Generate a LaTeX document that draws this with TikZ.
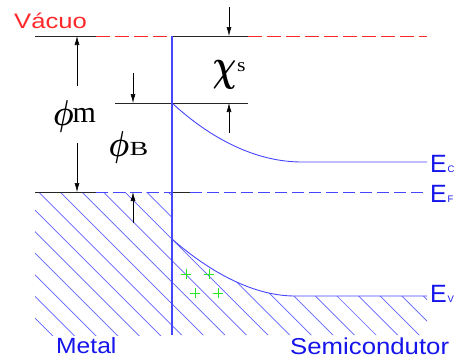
\documentclass[tikz,border=0pt]{standalone}
\usepackage{bm}
\usepackage{fontspec}
\newfontfamily\arialf{Liberation Sans}
\newfontfamily\timesf{Liberation Serif}
\usetikzlibrary{arrows.meta}
\definecolor{lineblue}{RGB}{70,70,255}
\definecolor{hatchblue}{RGB}{95,95,255}
\definecolor{txtblue}{RGB}{20,20,235}
\definecolor{plusgreen}{RGB}{40,230,40}
\definecolor{vacred}{RGB}{255,40,40}
\begin{document}
\begin{tikzpicture}[x=1pt,y=-1pt,
  blk/.style={black!85, line width=0.8pt},
  reddash/.style={vacred, line width=0.8pt, dash pattern=on 14pt off 5pt},
  bluedash/.style={lineblue, line width=0.8pt, dash pattern=on 12pt off 5pt},
  band/.style={lineblue, line width=0.9pt},
  hatchline/.style={hatchblue, line width=0.7pt},
  dimarrow/.style={black, line width=0.6pt, -{Latex[length=9pt,width=5pt]}},
  lbl/.style={inner sep=0pt, anchor=base west},
  sanslbl/.style={lbl, text=txtblue, font=\arialf\fontsize{22}{24}\selectfont},
  elbl/.style={lbl, text=txtblue, font=\arialf\fontsize{25}{27}\selectfont},
  esub/.style={lbl, text=txtblue, font=\arialf\fontsize{9.5}{10}\selectfont},
  plusmark/.style={plusgreen, line width=0.8pt}]
\useasboundingbox (0,0) rectangle (457,360);

% key coordinates
\coordinate (vacL) at (35,36);
\coordinate (vacM) at (96,36);
\coordinate (junTop) at (172,36);
\coordinate (vacK) at (248,36);
\coordinate (vacR) at (427,36);
\coordinate (fL) at (35,192);
\coordinate (fM) at (96,192);
\coordinate (junF) at (172,192);
\coordinate (fK) at (190,192);
\coordinate (fR) at (427,192);
\coordinate (junBot) at (172,335);
\coordinate (bL) at (115,103);
\coordinate (ec0) at (172,103);
\coordinate (bR) at (248,103);
\coordinate (ec1) at (302,162);
\coordinate (ecR) at (427,162);
\coordinate (ev0) at (172,239);
\coordinate (ev1) at (295,296);
\coordinate (evR) at (427,296);

% hatching: metal
\begin{scope}
  \clip (fL) rectangle (junBot);
  \foreach \k in {-3,...,12}
    \draw[hatchline] (172,239+21.6*\k) -- ++(-320,-320);
\end{scope}
% hatching: semiconductor
\begin{scope}
  \clip (ev0) .. controls (205,268) and (250,296) .. (ev1) -- (evR) -- (427,335) -- (junBot) -- cycle;
  \foreach \k in {-11,...,5}
    \draw[hatchline] (172,239+21.6*\k) -- ++(320,320);
\end{scope}

% vacuum level
\draw[blk] (vacL) -- (vacM);
\draw[reddash] (vacM) -- (junTop);
\draw[blk] (junTop) -- (vacK);
\draw[reddash] (vacK) -- (vacR);

% Fermi level
\draw[blk] (fL) -- (fM);
\draw[bluedash] (fM) -- (junF);
\draw[blk] (junF) -- (fK);
\draw[bluedash] (fK) -- (fR);

% barrier level
\draw[blk] (bL) -- (bR);

% junction
\draw[lineblue, line width=1.2pt] (junTop) -- (junBot);

% bands
\draw[band] (ec0) .. controls (210,138) and (255,162) .. (ec1) -- (ecR);
\draw[band] (ev0) .. controls (205,268) and (250,296) .. (ev1) -- (evR);

% dimension arrows
\coordinate (mA) at (77,36);
\coordinate (mT) at (77,86);
\coordinate (mB) at (77,143);
\coordinate (mF) at (77,192);
\draw[dimarrow] (mT) -- (mA);
\draw[dimarrow] (mB) -- (mF);
\coordinate (bT) at (133,73);
\coordinate (bA) at (133,103);
\coordinate (bB) at (133,223);
\coordinate (bF) at (133,192);
\draw[dimarrow] (bT) -- (bA);
\draw[dimarrow] (bB) -- (bF);
\coordinate (cT) at (229,7);
\coordinate (cA) at (229,36);
\coordinate (cB) at (229,133);
\coordinate (cE) at (229,103);
\draw[dimarrow] (cT) -- (cA);
\draw[dimarrow] (cB) -- (cE);

% plus charges
\foreach \n/\px/\py in {p1/186/274, p2/209/274, p3/195/293, p4/218/293} {
  \coordinate (\n) at (\px,\py);
  \draw[plusmark] (\n) ++(-5,0) -- ++(10,0) (\n) ++(0,-5) -- ++(0,10);
}

% labels
\node[lbl, text=vacred, font=\arialf\fontsize{21}{23}\selectfont] (vac) at (14,28) {\scalebox{1.22}[1]{Vácuo}};
\node[inner sep=0pt] (phim) at (63.5,116.5) {\scalebox{2.9}[3.6]{$\bm{\phi}$}};
\node[lbl, font=\timesf\fontsize{30}{32}\selectfont] (mlbl) at (72.5,122) {m};
\node[inner sep=0pt] (phib) at (119,147.5) {\scalebox{2.9}[3.6]{$\bm{\phi}$}};
\node[lbl, font=\timesf\fontsize{20}{22}\selectfont] (blbl) at (129.5,155) {\scalebox{1.4}[1]{B}};
\node[inner sep=0pt] (chi) at (224.5,74.5) {\scalebox{3.3}[4.5]{$\bm{\chi}$}};
\node[lbl, font=\timesf\fontsize{19}{21}\selectfont] (slbl) at (237,71) {\scalebox{1.15}[1]{s}};
\node[elbl] (ec) at (430,172) {E};
\node[esub] (ecs) at (447.5,172) {C};
\node[elbl] (ef) at (430,202) {E};
\node[esub] (efs) at (447.5,202) {F};
\node[elbl] (ev) at (430,302) {E};
\node[esub] (evs) at (447.5,302) {V};
\node[sanslbl] (metal) at (56,353) {\scalebox{1.12}[1]{Metal}};
\node[sanslbl, font=\arialf\fontsize{23}{25}\selectfont] (semi) at (290,354) {\scalebox{1.12}[1]{Semicondutor}};
\end{tikzpicture}
\end{document}
